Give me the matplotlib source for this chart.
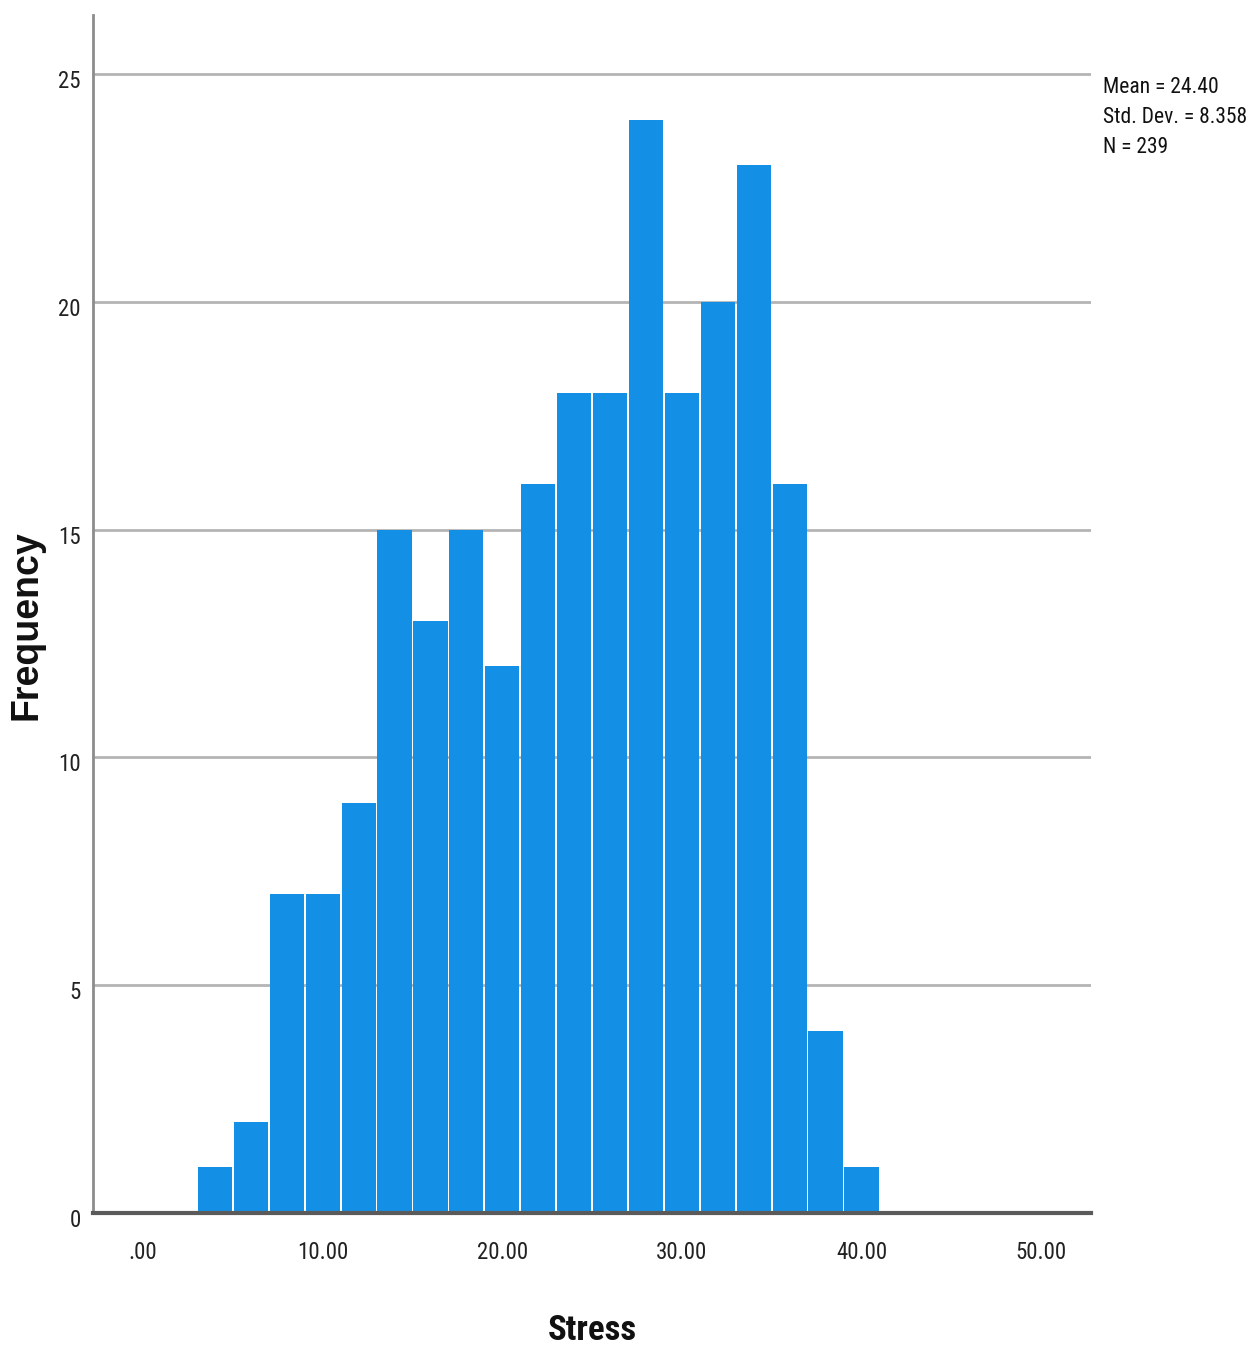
import numpy as np
import matplotlib
matplotlib.use('Agg')
import matplotlib.pyplot as plt
import matplotlib.transforms as mtransforms
from matplotlib import font_manager

# Данные гистограммы (интервалы шириной 2)
bin_edges = [3, 5, 7, 9, 11, 13, 15, 17, 19, 21, 23, 25, 27, 29, 31, 33, 35, 37, 39, 41]
frequencies = [1, 2, 7, 7, 9, 15, 13, 15, 12, 16, 18, 18, 24, 18, 20, 23, 16, 4, 1]
x_ticks = [0, 10, 20, 30, 40, 50]
x_tick_labels = ['.00', '10.00', '20.00', '30.00', '40.00', '50.00']
y_ticks = [0, 5, 10, 15, 20, 25]
stats_lines = ['Mean = 24.40', 'Std. Dev. = 8.358', 'N = 239']

# Ищем узкий шрифт (как Arial Narrow в SPSS)
names = sorted({f.name for f in font_manager.fontManager.ttflist})
narrow_name = None
for key in ['Liberation Sans Narrow', 'Arial Narrow', 'Roboto Condensed',
            'Open Sans Condensed', 'DejaVu Sans Condensed', 'Noto Sans Condensed']:
    if key in names:
        narrow_name = key
        break
if narrow_name is None:
    for f in font_manager.fontManager.ttflist:
        if 'condensed' in str(f.stretch) and 'Sans' in f.name:
            narrow_name = f.name
            break

if narrow_name:
    narrow = [narrow_name, 'Liberation Sans', 'DejaVu Sans']
    s_tick, s_stats, s_xlabel = 16.5, 15.5, 25
else:
    narrow = ['Liberation Sans', 'DejaVu Sans']
    s_tick, s_stats, s_xlabel = 14, 13, 22
wide = ['Liberation Sans', 'DejaVu Sans']

bar_color = '#1390E6'
grid_color = '#B4B4B4'

fig = plt.figure(figsize=(12.54, 13.5), dpi=100)
ax = fig.add_axes([0.0742, 0.1015, 0.7955, 0.8874])

edges = np.array(bin_edges, dtype=float)
gap = 0.1
ax.bar(edges[:-1] + gap / 2, frequencies, width=np.diff(edges) - gap, align='edge',
       color=bar_color, linewidth=0, zorder=3)

# Сетка
for yv in y_ticks[1:]:
    ax.axhline(yv, color=grid_color, linewidth=2, zorder=1)

ax.set_xlim(-2.79, 52.76)
ax.set_ylim(0, 26.3)

ax.set_xticks(x_ticks)
ax.set_xticklabels(x_tick_labels, family=narrow, fontsize=s_tick, color='#222222')
ax.set_yticks(y_ticks)
ax.set_yticklabels([str(v) for v in y_ticks], family=narrow, fontsize=s_tick, color='#222222')
ax.tick_params(axis='both', length=0)
ax.tick_params(axis='x', pad=20)
ax.tick_params(axis='y', pad=9)

# Смещаем подписи оси Y немного вниз, как в SPSS
offset = mtransforms.ScaledTranslation(0, -5 / 100, fig.dpi_scale_trans)
for lbl in ax.get_yticklabels():
    lbl.set_transform(lbl.get_transform() + offset)

for side in ['top', 'right']:
    ax.spines[side].set_visible(False)
ax.spines['left'].set_color('#8C8C8C')
ax.spines['left'].set_linewidth(2)
ax.spines['bottom'].set_color('#5A5A5A')
ax.spines['bottom'].set_linewidth(3)
ax.spines['bottom'].set_zorder(4)

fig.text(27 / 1254, 1 - 625 / 1350, 'Frequency', rotation=90, ha='center', va='center',
         family=wide, fontsize=27, fontweight='bold', color='#111111')
fig.text(592 / 1254, 1 - 1330 / 1350, 'Stress', ha='center', va='center',
         family=narrow, fontsize=s_xlabel, fontweight='bold', color='#111111')

fig.text(1103 / 1254, 1 - 77 / 1350, '\n'.join(stats_lines), ha='left', va='top',
         family=narrow, fontsize=s_stats, linespacing=1.55, color='#111111')

fig.savefig('out.png', dpi=100, facecolor='white')
